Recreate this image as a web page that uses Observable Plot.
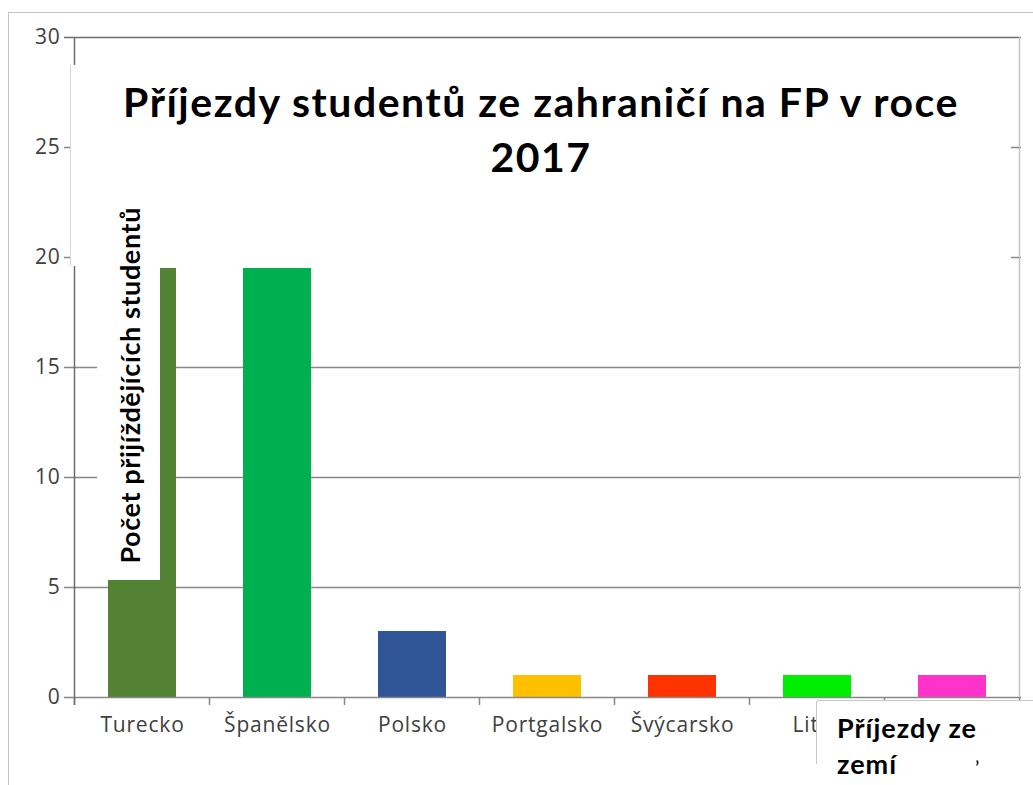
<!DOCTYPE html>
<html>
<head>
<meta charset="utf-8">
<script src="https://cdn.jsdelivr.net/npm/d3@7"></script>
<script src="https://cdn.jsdelivr.net/npm/@observablehq/plot@0.6"></script>
<style>
  html, body { margin: 0; padding: 0; background: #fff; }
  #wrap { position: relative; width: 1033px; height: 785px; overflow: hidden; background: #fff; }
  #wrap svg { position: absolute; left: 0; top: 0; }
  .outer { position: absolute; left: 8px; top: 12px; right: -5px; bottom: -5px;
           border-top: 1.5px solid #c4c4c4; border-left: 1.5px solid #c4c4c4; pointer-events: none; }
  .title-box { position: absolute; left: 70px; top: 65px; width: 941px; height: 201px; background: #fff;
               border-left: 1px solid #d4d4d4; box-sizing: border-box;
               font-family: Lato, "Open Sans", sans-serif; font-weight: 700; font-size: 41px; color: #000;
               letter-spacing: 1.5px; text-align: center; line-height: 55px; padding-top: 9px; }
  .ytitle-box { position: absolute; left: 97px; top: 190px; width: 63px; height: 390px; background: #fff;
                display: flex; align-items: center; justify-content: center; }
  .ytitle-box span { writing-mode: vertical-rl; transform: rotate(180deg); white-space: nowrap;
                     font-family: Lato, "Open Sans", sans-serif; font-weight: 700; font-size: 27px; color: #000;
                     letter-spacing: 0.6px; margin-left: 2px; }
  .legend-box { position: absolute; left: 817px; top: 700px; width: 230px; height: 90px; background: #fff;
                border-top: 1px solid #c8c8c8; font-family: Lato, "Open Sans", sans-serif; font-weight: 700;
                font-size: 27px; letter-spacing: 1px; color: #000; }
  .legend-box .edge { position: absolute; left: -1px; top: 0; width: 1px; height: 63px; background: #c8c8c8; }
  .legend-box .l1 { position: absolute; left: 20px; top: 10px; }
  .legend-box .l2 { position: absolute; left: 20px; top: 46px; }
  .legend-box .mark { position: absolute; left: 158px; top: 54px; font-weight: 400; font-size: 20px; }
</style>
</head>
<body>
<div id="wrap"></div>
<script>
// ---- data ----
const countries = ["Turecko", "Španělsko", "Polsko", "Portgalsko", "Švýcarsko", "Litva", "Francie"];
const students  = [19.5, 19.5, 3, 1, 1, 1, 1];
const barColors = ["#548235", "#00B050", "#2F5597", "#FFC000", "#FF3300", "#00EE00", "#FF33CC"];
// the last category's label is hidden behind the legend title box in the reference
const hiddenLabels = ["Francie"];
const yTicks    = [0, 5, 10, 15, 20, 25, 30];
const gridVals  = [5, 10, 15, 20, 25];
const titleText = ["Příjezdy studentů ze zahraničí na FP v roce", "2017"];
const yTitle    = "Počet přijíždějících studentů";
const legendTitle = ["Příjezdy ze", "zemí"];

const data = countries.map((c, i) => ({country: c, value: students[i], color: barColors[i]}));

const axisColor = "#878787";

// custom lines: left axis, right frame, category boundary ticks
function frameLines(index, scales, values, dims) {
  const {x, y} = scales;
  const g = d3.create("svg:g");
  const step = x(countries[1]) - x(countries[0]);
  const bw = x.bandwidth ? x.bandwidth() : step / 2;
  const gap = (step - bw) / 2;
  const bounds = countries.map(c => x(c) - gap);
  bounds.push(x(countries[countries.length - 1]) + bw + gap);
  const y0 = y(0), yTop = y(30);
  g.append("line").attr("x1", bounds[bounds.length - 1]).attr("x2", bounds[bounds.length - 1])
    .attr("y1", yTop).attr("y2", y0).attr("stroke", "#c4c4c4").attr("stroke-width", 1.5);
  for (const b of bounds) {
    g.append("line").attr("x1", b).attr("x2", b).attr("y1", y0).attr("y2", y0 + 8)
      .attr("stroke", axisColor).attr("stroke-width", 1.5);
  }
  g.append("line").attr("x1", bounds[0]).attr("x2", bounds[0]).attr("y1", yTop).attr("y2", y0 + 8)
    .attr("stroke", "#6e6e6e").attr("stroke-width", 1.5);
  return g.node();
}

const chart = Plot.plot({
  width: 1033,
  height: 785,
  marginTop: 37,
  marginBottom: 88,
  marginLeft: 73,
  marginRight: 12,
  style: {fontFamily: "'Open Sans', sans-serif", background: "transparent", color: "#404040", letterSpacing: "0.8px"},
  x: {domain: countries, paddingInner: 0.5, paddingOuter: 0.25},
  y: {domain: [0, 30]},
  marks: [
    Plot.ruleY(gridVals, {stroke: axisColor, strokeWidth: 1.5, insetLeft: -9}),
    Plot.ruleY([30], {stroke: "#6e6e6e", strokeWidth: 1.5, insetLeft: -9}),
    Plot.barY(data, {x: "country", y: "value", fill: "color"}),
    Plot.ruleY([0], {stroke: axisColor, strokeWidth: 1.5, insetLeft: -9}),
    frameLines,
    Plot.axisY({ticks: yTicks, tickSize: 0, tickPadding: 13, fontSize: 21, label: null, fill: "#404040"}),
    Plot.axisX({tickSize: 0, tickPadding: 20, fontSize: 21, label: null, fill: "#404040",
                tickFormat: d => hiddenLabels.includes(d) ? "" : d})
  ]
});

const wrap = document.getElementById("wrap");
wrap.appendChild(chart);

const outer = document.createElement("div");
outer.className = "outer";
wrap.appendChild(outer);

const tb = document.createElement("div");
tb.className = "title-box";
tb.innerHTML = titleText.map(t => `<div>${t}</div>`).join("");
wrap.appendChild(tb);

const yb = document.createElement("div");
yb.className = "ytitle-box";
yb.innerHTML = `<span>${yTitle}</span>`;
wrap.appendChild(yb);

const lb = document.createElement("div");
lb.className = "legend-box";
lb.innerHTML = `<div class="edge"></div><div class="l1">${legendTitle[0]}</div><div class="l2">${legendTitle[1]}</div><div class="mark">ʼ</div>`;
wrap.appendChild(lb);
</script>
</body>
</html>
